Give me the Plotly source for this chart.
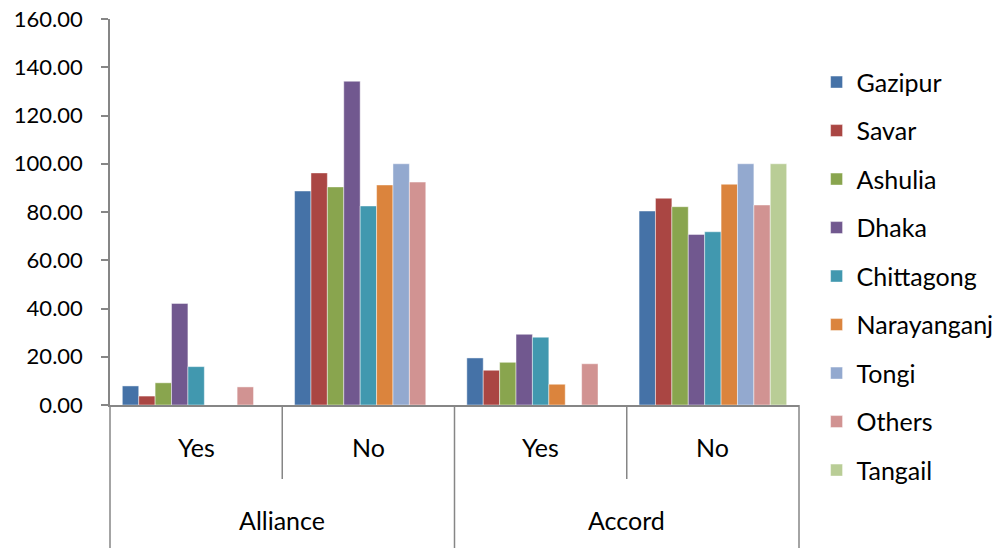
import plotly.graph_objects as go

outer = ["Alliance", "Alliance", "Accord", "Accord"]
inner = ["Yes", "No", "Yes", "No"]
cats = [f"{o} {i}" for o, i in zip(outer, inner)]

series = ["Gazipur", "Savar", "Ashulia", "Dhaka", "Chittagong",
          "Narayanganj", "Tongi", "Others", "Tangail"]
gazipur = [7.9, 88.7, 19.5, 80.4]
savar = [3.7, 96.2, 14.4, 85.7]
ashulia = [9.2, 90.4, 17.7, 82.2]
dhaka = [42.1, 134.2, 29.3, 70.7]
chittagong = [15.9, 82.5, 28.1, 71.8]
narayanganj = [None, 91.2, 8.6, 91.5]
tongi = [None, 100.0, None, 100.0]
others = [7.5, 92.4, 17.1, 82.9]
tangail = [None, None, None, 100.0]
values = [gazipur, savar, ashulia, dhaka, chittagong, narayanganj, tongi, others, tangail]
colors = ["#4572A7", "#AA4643", "#89A54E", "#71588F", "#4198AF",
          "#DB843D", "#93A9CF", "#D19392", "#B9CD96"]

FONT = "Lato"
AX = "#868686"
LBL = 25

fig = go.Figure()
for name, vals, col in zip(series, values, colors):
    fig.add_trace(go.Bar(
        x=cats, y=vals, name=name, legendgroup=name,
        marker=dict(color=col, line=dict(color="rgba(255,255,255,0.45)", width=1)),
    ))

n = len(cats)
shapes = []
for k in range(n + 1):
    bottom = -0.40 if k % 2 == 0 else -0.1917
    shapes.append(dict(type="line", xref="x domain", yref="paper",
                       x0=k / n, x1=k / n, y0=0, y1=bottom,
                       line=dict(color=AX, width=1.5)))

annotations = []
for i, c in enumerate(cats):
    annotations.append(dict(x=i, y=-0.1088, xref="x", yref="paper", text=inner[i],
                            showarrow=False, yanchor="middle",
                            font=dict(family=FONT, size=LBL, color="#000")))
groups = []
for o in outer:
    if o not in groups:
        groups.append(o)
for g in groups:
    idx = [i for i, o in enumerate(outer) if o == g]
    annotations.append(dict(x=sum(idx) / len(idx), y=-0.298, xref="x", yref="paper",
                            text=g, showarrow=False, yanchor="middle",
                            font=dict(family=FONT, size=LBL, color="#000")))

fig.update_layout(
    width=1001, height=548,
    margin=dict(l=110, r=202, t=19, b=143, autoexpand=False),
    paper_bgcolor="white", plot_bgcolor="white",
    barmode="group", bargap=0.143, bargroupgap=0,
    font=dict(family=FONT, size=22, color="#000"),
    showlegend=True,
    legend=dict(x=1.0255, y=0.8955, xanchor="left", yanchor="top",
                font=dict(family=FONT, size=LBL, color="#000"),
                tracegroupgap=13, bgcolor="rgba(0,0,0,0)", maxheight=540),
    shapes=shapes,
    annotations=annotations,
)
fig.update_xaxes(showticklabels=False, showgrid=False, zeroline=False,
                 showline=True, linecolor=AX, linewidth=1.5, ticks="")
fig.update_yaxes(range=[0, 160], dtick=20, tickformat=".2f", showgrid=False,
                 zeroline=False, showline=True, linecolor=AX, linewidth=1.5,
                 ticks="outside", ticklen=7, tickcolor=AX, tickwidth=1.5,
                 ticklabelstandoff=14,
                 tickfont=dict(family=FONT, size=22, color="#000"))

fig.write_html("out.html")
